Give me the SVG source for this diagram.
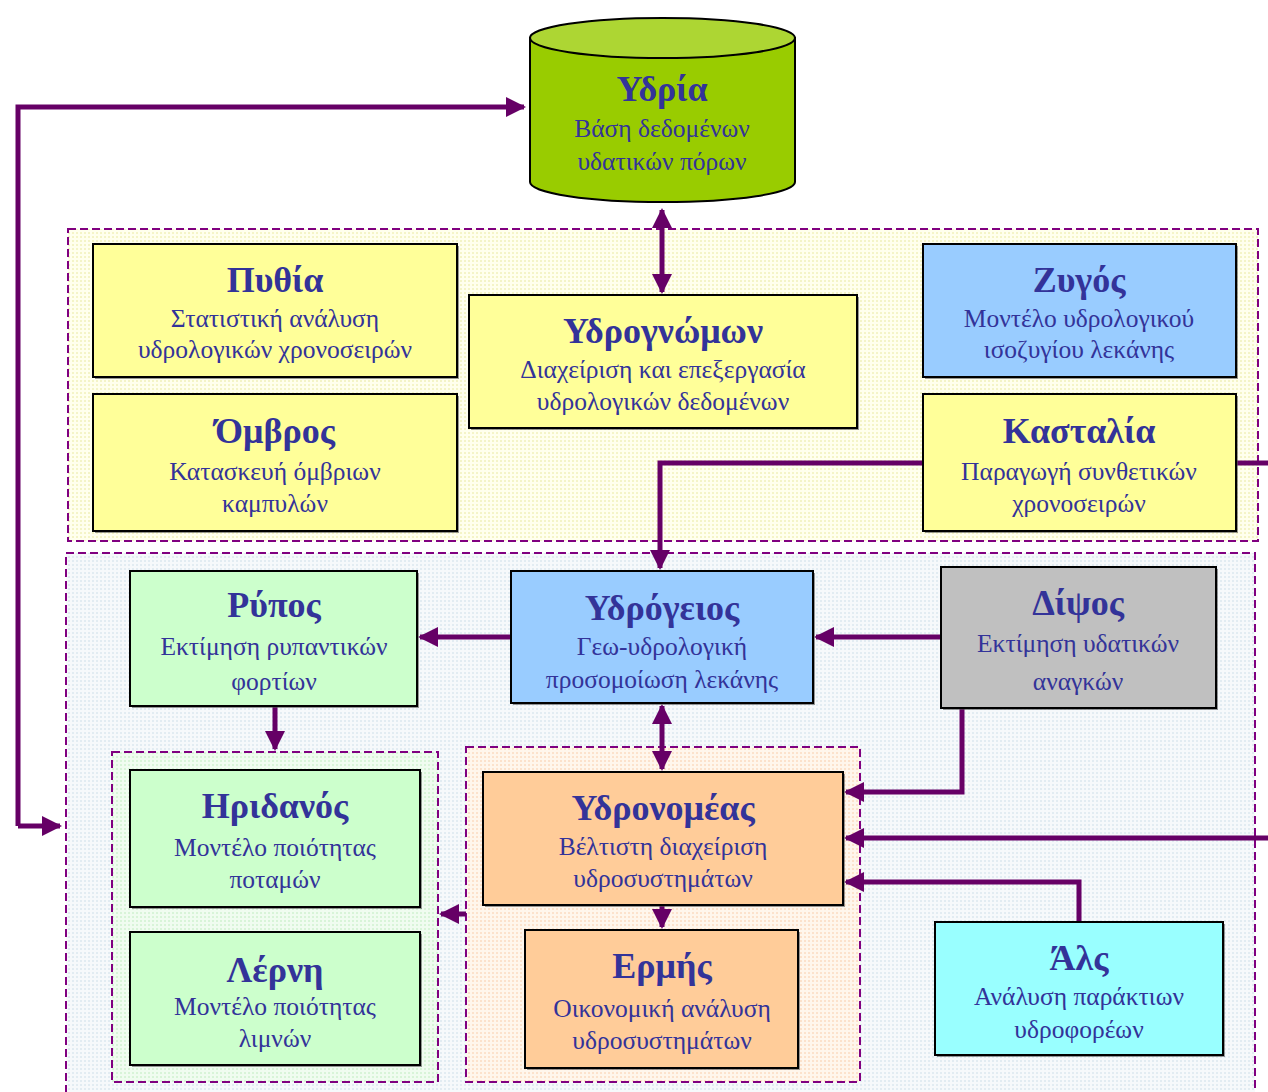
<svg xmlns="http://www.w3.org/2000/svg" width="1268" height="1092" viewBox="0 0 1268 1092">
<defs>
<style>
.box{stroke:#000;stroke-width:2}
.sh{fill:#555;opacity:0.6}
.t{font-family:"Liberation Serif","DejaVu Serif",serif;font-weight:bold;font-size:36px;fill:#333399;text-anchor:middle}
.s{font-family:"Liberation Serif","DejaVu Serif",serif;font-size:25.5px;fill:#333399;text-anchor:middle}
.grp{stroke:#800080;stroke-width:2;stroke-dasharray:8 4}
.c{fill:none;stroke:#660066;stroke-width:5}
</style>
<pattern id="pY" width="4" height="4" patternUnits="userSpaceOnUse"><rect width="4" height="4" fill="#FFFFEE"/><rect width="2" height="2" fill="#F4F4C8"/></pattern>
<pattern id="pB" width="4" height="4" patternUnits="userSpaceOnUse"><rect width="4" height="4" fill="#F6F9FB"/><rect width="2" height="2" fill="#E2ECF2"/></pattern>
<pattern id="pG" width="4" height="4" patternUnits="userSpaceOnUse"><rect width="4" height="4" fill="#F0FCF0"/><rect width="2" height="2" fill="#D8F4D8"/></pattern>
<pattern id="pO" width="4" height="4" patternUnits="userSpaceOnUse"><rect width="4" height="4" fill="#FFF6EC"/><rect width="2" height="2" fill="#FCE2CC"/></pattern>
<marker id="ah" viewBox="0 0 10 10" refX="9" refY="5" markerWidth="4" markerHeight="4" orient="auto-start-reverse" markerUnits="strokeWidth"><path d="M0,0 L10,5 L0,10 z" fill="#660066"/></marker>
</defs>

<g id="groups">
<rect id="upper-group" class="grp" x="68" y="229" width="1190" height="312" fill="url(#pY)"/>
<rect id="lower-group" class="grp" x="66" y="553" width="1189" height="545" fill="url(#pB)"/>
<rect id="quality-group" class="grp" x="112" y="752" width="326" height="330" fill="url(#pG)"/>
<rect id="management-group" class="grp" x="466" y="747" width="394" height="335" fill="url(#pO)"/>
</g>

<g id="connectors">
<path class="c" d="M18,826 L18,107 L524,107" marker-end="url(#ah)"/>
<path class="c" d="M18,826 L60,826" marker-end="url(#ah)"/>
<path class="c" d="M662,210 L662,292" marker-start="url(#ah)" marker-end="url(#ah)"/>
<path class="c" d="M923,463 L660,463 L660,568" marker-end="url(#ah)"/>
<path class="c" d="M1236,463 L1268,463"/>
<path class="c" d="M1268,838 L846,838" marker-end="url(#ah)"/>
<path class="c" d="M511,637 L420,637" marker-end="url(#ah)"/>
<path class="c" d="M941,637 L816,637" marker-end="url(#ah)"/>
<path class="c" d="M275,706 L275,749" marker-end="url(#ah)"/>
<path class="c" d="M662,706 L662,769" marker-start="url(#ah)" marker-end="url(#ah)"/>
<path class="c" d="M962,708 L962,792 L846,792" marker-end="url(#ah)"/>
<path class="c" d="M1079,922 L1079,882 L846,882" marker-end="url(#ah)"/>
<path class="c" d="M662,905 L662,927" marker-end="url(#ah)"/>
<path class="c" d="M466,914 L441,914" marker-end="url(#ah)"/>
</g>

<g id="ydria">
<path d="M530,38 L530,182 A132,20 0 0 0 795,182 L795,38 Z" fill="#99CC00" stroke="#000" stroke-width="2"/>
<ellipse cx="662.5" cy="38" rx="132.5" ry="20" fill="#ADD633" stroke="#000" stroke-width="2"/>
<text class="t" x="662" y="101">Υδρία</text>
<text class="s" x="662" y="137">Βάση δεδομένων</text>
<text class="s" x="662" y="170">υδατικών πόρων</text>
</g>

<g id="pythia">
<rect class="sh" x="95" y="246" width="364" height="133"/>
<rect class="box" x="93" y="244" width="364" height="133" fill="#FFFF99"/>
<text class="t" x="275" y="292">Πυθία</text>
<text class="s" x="275" y="327">Στατιστική ανάλυση</text>
<text class="s" x="275" y="358">υδρολογικών χρονοσειρών</text>
</g>

<g id="ydrognomon">
<rect class="sh" x="471" y="297" width="388" height="133"/>
<rect class="box" x="469" y="295" width="388" height="133" fill="#FFFF99"/>
<text class="t" x="663" y="343">Υδρογνώμων</text>
<text class="s" x="663" y="378">Διαχείριση και επεξεργασία</text>
<text class="s" x="663" y="410">υδρολογικών δεδομένων</text>
</g>

<g id="zygos">
<rect class="sh" x="925" y="246" width="313" height="133"/>
<rect class="box" x="923" y="244" width="313" height="133" fill="#99CCFF"/>
<text class="t" x="1079" y="292">Ζυγός</text>
<text class="s" x="1079" y="327">Μοντέλο υδρολογικού</text>
<text class="s" x="1079" y="358">ισοζυγίου λεκάνης</text>
</g>

<g id="ombros">
<rect class="sh" x="95" y="396" width="364" height="137"/>
<rect class="box" x="93" y="394" width="364" height="137" fill="#FFFF99"/>
<text class="t" x="275" y="443">Όμβρος</text>
<text class="s" x="275" y="480">Κατασκευή όμβριων</text>
<text class="s" x="275" y="512">καμπυλών</text>
</g>

<g id="kastalia">
<rect class="sh" x="925" y="396" width="313" height="137"/>
<rect class="box" x="923" y="394" width="313" height="137" fill="#FFFF99"/>
<text class="t" x="1079" y="443">Κασταλία</text>
<text class="s" x="1079" y="480">Παραγωγή συνθετικών</text>
<text class="s" x="1079" y="512">χρονοσειρών</text>
</g>

<g id="rypos">
<rect class="sh" x="132" y="573" width="287" height="135"/>
<rect class="box" x="130" y="571" width="287" height="135" fill="#CCFFCC"/>
<text class="t" x="274" y="617">Ρύπος</text>
<text class="s" x="274" y="655">Εκτίμηση ρυπαντικών</text>
<text class="s" x="274" y="690">φορτίων</text>
</g>

<g id="ydrogeios">
<rect class="sh" x="513" y="573" width="302" height="132"/>
<rect class="box" x="511" y="571" width="302" height="132" fill="#99CCFF"/>
<text class="t" x="662" y="620">Υδρόγειος</text>
<text class="s" x="662" y="655">Γεω-υδρολογική</text>
<text class="s" x="662" y="688">προσομοίωση λεκάνης</text>
</g>

<g id="dipsos">
<rect class="sh" x="943" y="569" width="275" height="141"/>
<rect class="box" x="941" y="567" width="275" height="141" fill="#C0C0C0"/>
<text class="t" x="1078" y="615">Δίψος</text>
<text class="s" x="1078" y="652">Εκτίμηση υδατικών</text>
<text class="s" x="1078" y="690">αναγκών</text>
</g>

<g id="iridanos">
<rect class="sh" x="132" y="772" width="290" height="137"/>
<rect class="box" x="130" y="770" width="290" height="137" fill="#CCFFCC"/>
<text class="t" x="275" y="818">Ηριδανός</text>
<text class="s" x="275" y="856">Μοντέλο ποιότητας</text>
<text class="s" x="275" y="888">ποταμών</text>
</g>

<g id="lerni">
<rect class="sh" x="132" y="934" width="290" height="133"/>
<rect class="box" x="130" y="932" width="290" height="133" fill="#CCFFCC"/>
<text class="t" x="275" y="982">Λέρνη</text>
<text class="s" x="275" y="1015">Μοντέλο ποιότητας</text>
<text class="s" x="275" y="1047">λιμνών</text>
</g>

<g id="ydronomeas">
<rect class="sh" x="485" y="774" width="360" height="133"/>
<rect class="box" x="483" y="772" width="360" height="133" fill="#FFCC99"/>
<text class="t" x="663" y="820">Υδρονομέας</text>
<text class="s" x="663" y="855">Βέλτιστη διαχείριση</text>
<text class="s" x="663" y="887">υδροσυστημάτων</text>
</g>

<g id="ermis">
<rect class="sh" x="527" y="932" width="273" height="138"/>
<rect class="box" x="525" y="930" width="273" height="138" fill="#FFCC99"/>
<text class="t" x="662" y="978">Ερμής</text>
<text class="s" x="662" y="1017">Οικονομική ανάλυση</text>
<text class="s" x="662" y="1049">υδροσυστημάτων</text>
</g>

<g id="als">
<rect class="sh" x="937" y="924" width="288" height="133"/>
<rect class="box" x="935" y="922" width="288" height="133" fill="#99FFFF"/>
<text class="t" x="1079" y="970">Άλς</text>
<text class="s" x="1079" y="1005">Ανάλυση παράκτιων</text>
<text class="s" x="1079" y="1038">υδροφορέων</text>
</g>
</svg>
